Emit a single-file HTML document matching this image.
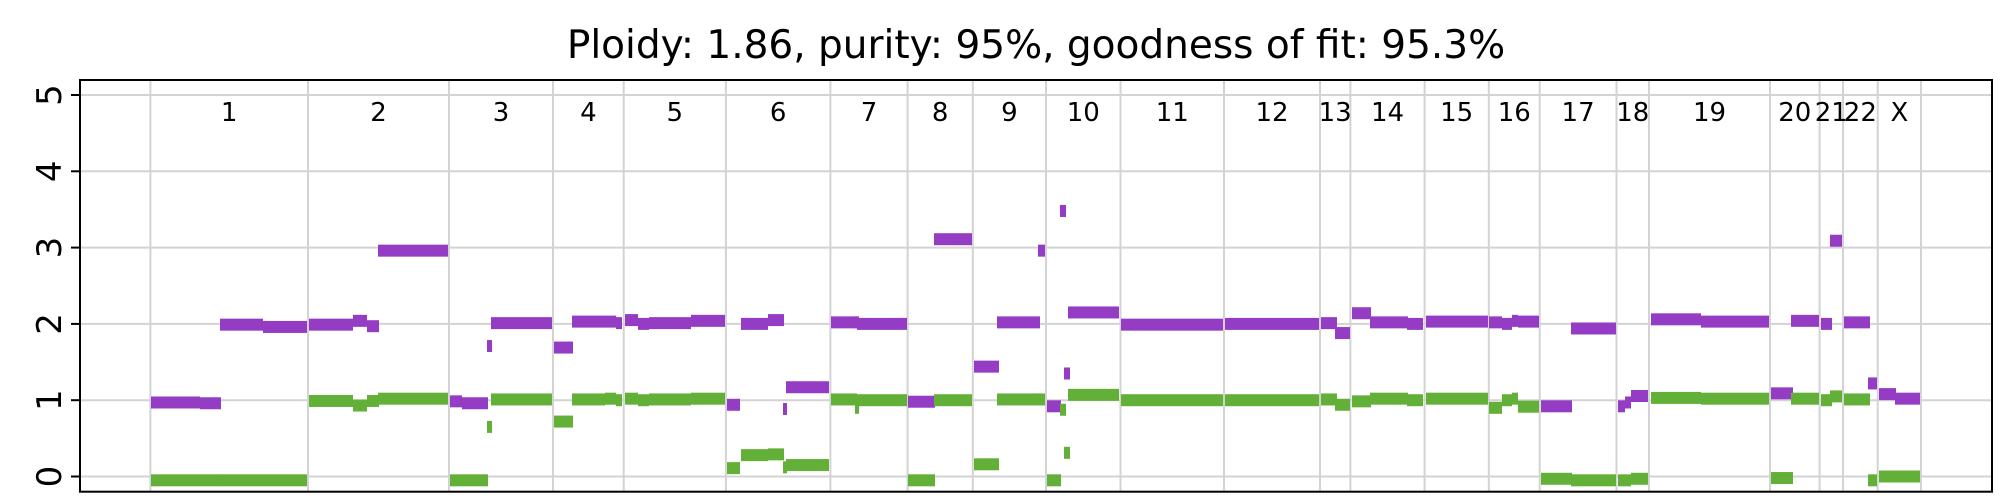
<!DOCTYPE html>
<html><head><meta charset="utf-8"><style>
html,body{margin:0;padding:0;background:#fff;}
svg{display:block;font-family:"DejaVu Sans","Liberation Sans",sans-serif;}
</style></head><body>
<svg id="chart" width="2000" height="500" viewBox="0 0 2000 500" xmlns="http://www.w3.org/2000/svg">
<text x="1036" y="58" font-size="39" text-anchor="middle" fill="#000">Ploidy: 1.86, purity: 95%, goodness of fit: 95.3%</text>
<g id="grid"></g>
<g id="marks"></g>
<g id="labels"></g>
<rect x="80" y="80" width="1912" height="411.7" fill="none" stroke="#000" stroke-width="2"/>
</svg>
<script>
// chromosome boundaries (genome position units)
const chromNames = ["1","2","3","4","5","6","7","8","9","10","11","12","13","14","15","16","17","18","19","20","21","22","X"];
const chromBounds = [70.4,228,369,473,543.7,645.9,750.4,827.6,892.8,966,1040.5,1144,1240,1270.4,1344.6,1408.8,1459.7,1536.5,1569,1690,1739.6,1763,1797.7,1841];
// segments
const segStart = [71,120,140,183, 229,273,287,298, 370,382,407,411, 474,492,525,536, 545,558,569,611, 647,661,688,703,706, 751,775,777, 828,854, 894,917,958, 967,980,984,988, 1041,1092, 1145, 1241,1255, 1272,1290,1327, 1346, 1409,1422,1432,1438, 1461,1491, 1538,1545,1551, 1571,1621, 1691,1711, 1741,1750, 1764,1788, 1799,1815];
const segEnd   = [120,141,183,227, 273,287,299,368, 382,408,412,472, 493,525,536,542, 558,569,611,645, 660,688,704,707,749, 777,779,827, 855,892, 919,960,965, 981,986,990,1039, 1092,1143, 1239, 1257,1270, 1291,1328,1343, 1408, 1422,1432,1438,1459, 1492,1536, 1545,1551,1568, 1621,1689, 1713,1739, 1752,1762, 1790,1797, 1816,1840];
const majorCN  = [0.97,0.96,1.99,1.96, 1.99,2.04,1.97,2.96, 0.985,0.96,1.71,2.01, 1.69,2.03,2.03,2.01, 2.05,2.0,2.01,2.04, 0.94,2.0,2.05,0.885,1.17, 2.02,2.02,2.0, 0.98,3.11, 1.44,2.02,2.96, 0.92,3.48,1.35,2.15, 1.99,1.99, 2.0, 2.01,1.88, 2.14,2.02,2.0, 2.03, 2.02,2.0,2.04,2.03, 0.92,1.94, 0.92,0.97,1.055, 2.06,2.03, 1.09,2.04, 2.0,3.09, 2.02,1.22, 1.08,1.02];
const minorCN  = [-0.05,-0.05,-0.05,-0.05, 0.99,0.93,0.99,1.02, -0.05,-0.05,0.65,1.01, 0.72,1.01,1.02,1.0, 1.02,1.0,1.01,1.02, 0.11,0.28,0.29,0.12,0.15, 1.01,0.9,1.0, -0.05,1.0, 0.16,1.01,1.01, -0.05,0.875,0.31,1.07, 1.0,1.0, 1.0, 1.01,0.94, 0.985,1.02,1.0, 1.02, 0.9,1.0,1.02,0.915, -0.03,-0.05, -0.05,-0.05,-0.03, 1.03,1.02, -0.02,1.02, 1.0,1.05, 1.01,-0.05, 0.0,0.0];
const yTicks = [0,1,2,3,4,5];

const NS = "http://www.w3.org/2000/svg";
function xs(v){ return 80 + v; }
function ys(v){ return 476.5 - v*76.3; }
function mk(tag, attrs, parent){ const e=document.createElementNS(NS,tag); for(const k in attrs) e.setAttribute(k,attrs[k]); parent.appendChild(e); return e; }
const grid=document.getElementById('grid'), marks=document.getElementById('marks'), labels=document.getElementById('labels');

yTicks.forEach(t=>{
  const l=mk('line',{x1:80,x2:1992,y1:ys(t),y2:ys(t),stroke:'#d3d3d3','stroke-width':2},grid);
  
  
  const tk=mk('line',{x1:71,x2:80,y1:ys(t),y2:ys(t),stroke:'#000','stroke-width':2},labels);
  
  
  const tx=mk('text',{x:61,y:ys(t),'font-size':34,'text-anchor':'middle',transform:'rotate(-90 61 '+ys(t)+')',fill:'#000'},labels);
  tx.textContent=t;
  
  
});
chromBounds.forEach(b=>{
  const l=mk('line',{x1:xs(b),x2:xs(b),y1:80,y2:491.7,stroke:'#d3d3d3','stroke-width':2},grid);
  
  
});
chromNames.forEach((n,i)=>{
  const cx=(xs(chromBounds[i])+xs(chromBounds[i+1]))/2;
  const t=mk('text',{x:cx,y:121,'font-size':26,'text-anchor':'middle',fill:'#000'},labels);
  t.textContent=n;
  
  
});
const H=12;
segStart.forEach((s,i)=>{
  const r=mk('rect',{x:xs(s),y:ys(majorCN[i])-H/2,width:xs(segEnd[i])-xs(s),height:H,fill:'#943dc4'},marks);
  
  
});
segStart.forEach((s,i)=>{
  const r=mk('rect',{x:xs(s),y:ys(minorCN[i])-H/2,width:xs(segEnd[i])-xs(s),height:H,fill:'#62b038'},marks);
  
  
});
</script>
</body></html>
